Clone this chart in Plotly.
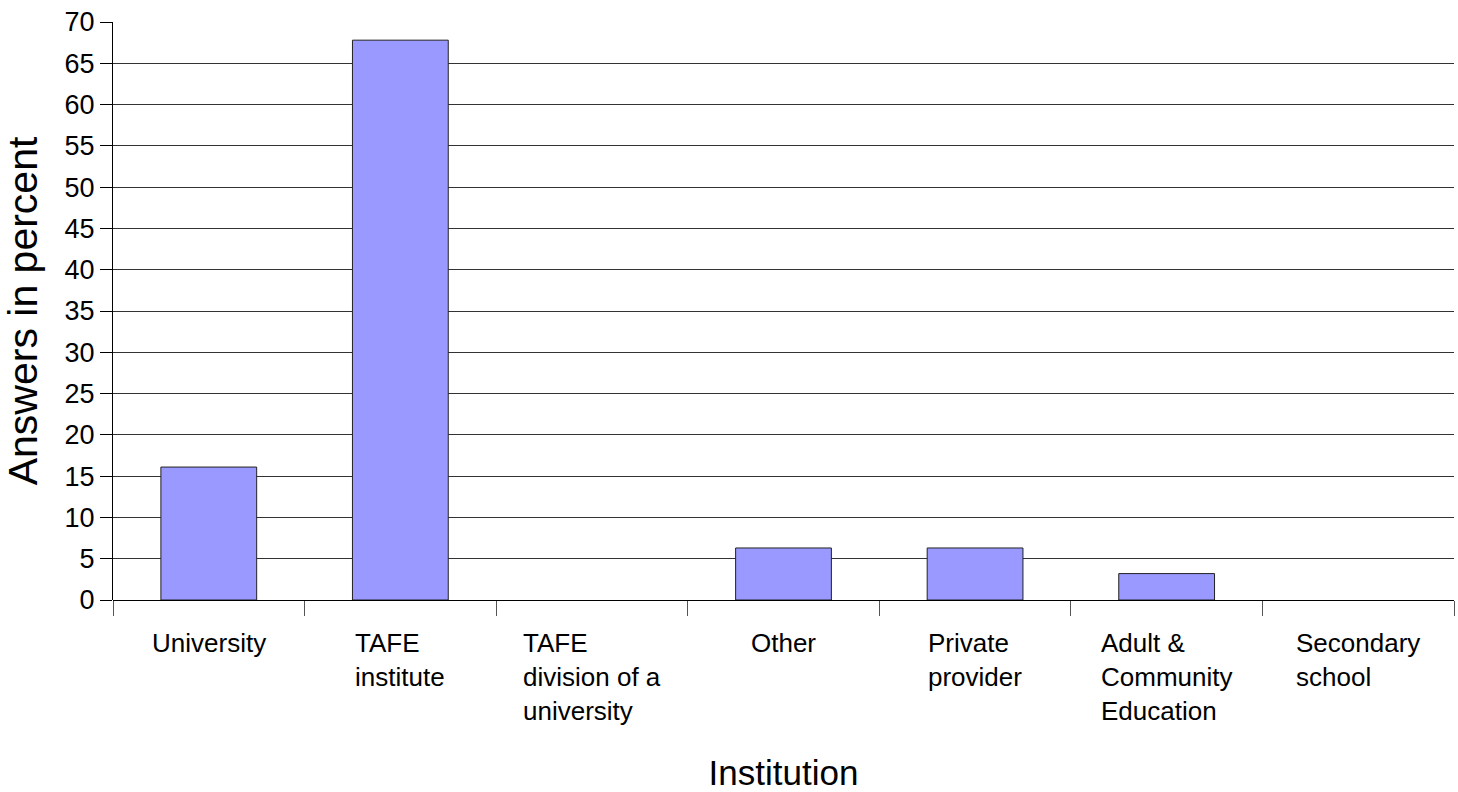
import plotly.graph_objects as go

categories = ["University", "TAFE institute", "TAFE division of a university", "Other",
              "Private provider", "Adult & Community Education", "Secondary school"]
category_labels = ["University", "TAFE<br>institute", "TAFE<br>division of a<br>university", "Other",
                   "Private<br>provider", "Adult &<br>Community<br>Education", "Secondary<br>school"]
values = [16.1, 67.8, 0, 6.3, 6.3, 3.2, 0]
y_ticks = list(range(0, 71, 5))

xpos = list(range(len(categories)))
boundaries = [i - 0.5 for i in range(len(categories) + 1)]
outline_widths = [1 if v > 0 else 0 for v in values]

FONT = "Liberation Sans, Arial, sans-serif"

fig = go.Figure()
fig.add_trace(go.Bar(
    x=xpos, y=values, width=0.5,
    marker=dict(color="#9999ff", line=dict(color="#222222", width=outline_widths)),
    hovertext=categories, showlegend=False,
))

annotations = []
for i, lab in enumerate(category_labels):
    annotations.append(dict(
        x=i, y=0, xref="x", yref="paper", yanchor="top", xanchor="center",
        yshift=-26, text=lab, align="left", showarrow=False,
        font=dict(family=FONT, size=26, color="#000000"),
    ))

fig.update_layout(
    width=1458, height=792,
    margin=dict(l=113, r=4, t=22, b=192),
    plot_bgcolor="white", paper_bgcolor="white",
    bargap=0.5,
    annotations=annotations,
    xaxis=dict(
        range=[-0.5, len(categories) - 0.5],
        tickmode="array", tickvals=boundaries, showticklabels=False,
        ticks="outside", ticklen=15, tickcolor="#555555", tickwidth=1,
        showgrid=False, zeroline=False,
        showline=False,
        title=dict(text="Institution", standoff=147,
                   font=dict(family=FONT, size=35, color="#000000")),
    ),
    yaxis=dict(
        range=[0, 70], tickmode="array", tickvals=y_ticks,
        ticks="outside", ticklen=12, tickcolor="#000000", tickwidth=1,
        showgrid=True, gridcolor="#333333", gridwidth=1,
        zeroline=True, zerolinecolor="#000000", zerolinewidth=1,
        showline=True, linecolor="#000000", linewidth=1,
        tickfont=dict(family=FONT, size=27, color="#000000"),
        title=dict(text="Answers in percent", standoff=14,
                   font=dict(family=FONT, size=41, color="#000000")),
    ),
)

fig.write_html("out.html")
